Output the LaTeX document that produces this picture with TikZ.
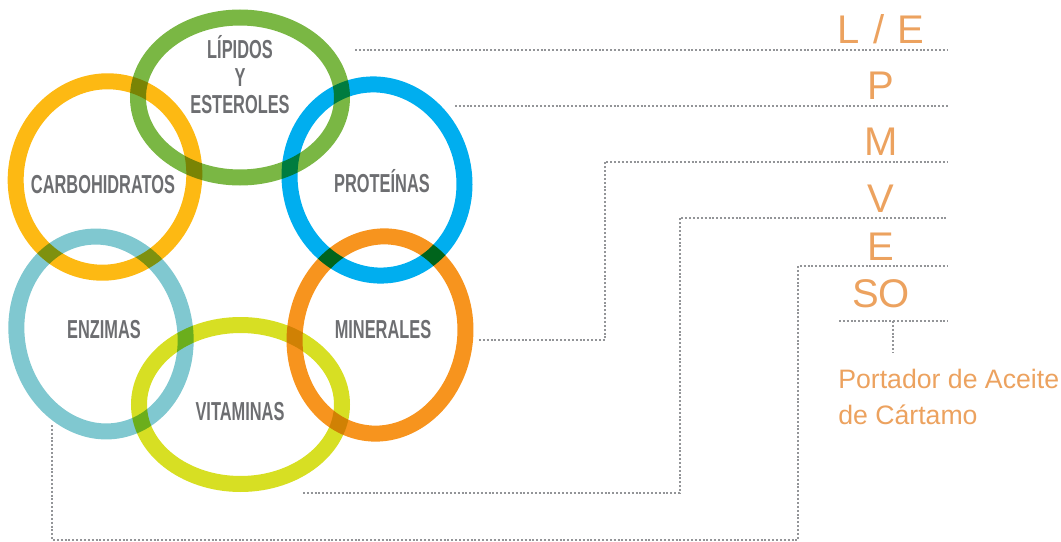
\documentclass[tikz,border=0pt]{standalone}
\usepackage{fontspec}
\setmainfont{Liberation Sans}
\newfontfamily\ringfont[FakeStretch=0.63]{Liberation Sans}

\definecolor{lipgreen}{HTML}{7AB744}
\definecolor{carbyellow}{HTML}{FDB913}
\definecolor{protblue}{HTML}{00AEEF}
\definecolor{enzteal}{HTML}{80C8D0}
\definecolor{minorange}{HTML}{F7941E}
\definecolor{vitlime}{HTML}{D7DF23}
\definecolor{labelgrey}{HTML}{6D6E71}
\definecolor{letterorange}{HTML}{ECA25F}
\definecolor{guidegrey}{HTML}{939598}

\begin{document}
\begin{tikzpicture}[x=0.75pt, y=-0.75pt,
		ring/.style={line width=12pt, blend mode=multiply},
		ringlabel/.style={text=labelgrey, font=\ringfont\bfseries\fontsize{19.5}{20.6}\selectfont, align=center},
		letter/.style={text=letterorange, font=\fontsize{30}{36}\selectfont, anchor=base},
		guide/.style={draw=guidegrey, line width=1.5pt, dash pattern=on 1.5pt off 1.4pt}]
			\useasboundingbox (0,0) rectangle (1061,542);

			% Rings
			\draw[ring, lipgreen] (240,97.5) ellipse [x radius=102, y radius=80];
			\draw[ring, carbyellow, rotate around={-12:(105,177)}] (105,177) ellipse [x radius=89, y radius=96];
			\draw[ring, protblue, rotate around={13:(377,180)}] (377,180) ellipse [x radius=87, y radius=96];
			\draw[ring, enzteal, rotate around={12:(101,334)}] (101,334) ellipse [x radius=84, y radius=98];
			\draw[ring, minorange, rotate around={-10:(380,335)}] (380,335) ellipse [x radius=85, y radius=99];
			\draw[ring, vitlime] (240.5,404.5) ellipse [x radius=101.5, y radius=79.5];

			% Ring labels
			\node[ringlabel] (lipidos) at (240,75) {LÍPIDOS\\Y\\ESTEROLES};
			\node[ringlabel, anchor=base] (carbo) at (103,193) {CARBOHIDRATOS};
			\node[ringlabel, anchor=base] (prot) at (382,192) {PROTEÍNAS};
			\node[ringlabel, anchor=base] (enz) at (104,338) {ENZIMAS};
			\node[ringlabel, anchor=base] (mine) at (383,338) {MINERALES};
			\node[ringlabel, anchor=base] (vita) at (240,420) {VITAMINAS};

			% Letters
			\node[letter] (le) at (881,44) {L\,\,/\,\,E};
			\node[letter] (p) at (881,99) {P};
			\node[letter] (m) at (881,156) {M};
			\node[letter] (v) at (881,212) {V};
			\node[letter] (e) at (881,260) {E};
			\node[letter] (so) at (881,307) {SO};
			\node[text=letterorange, font=\fontsize{20}{27}\selectfont, anchor=base west, inner sep=0pt] (oil) at (838,388) {Portador de Aceite};
			\node[text=letterorange, font=\fontsize{20}{27}\selectfont, anchor=base west, inner sep=0pt] (oil2) at (838,424) {de Cártamo};

			% Guides
			\coordinate (rail) at (948,0);
			\coordinate (lip-from) at (355,50);
			\coordinate (prot-from) at (455,106);
			\coordinate (min-from) at (479,340);
			\coordinate (m-rule) at (605,162);
			\coordinate (vit-from) at (303,493);
			\coordinate (v-rule) at (680,218);
			\coordinate (enz-from) at (52,425);
			\coordinate (e-corner) at (798,540);
			\coordinate (e-rule) at (798,266);
			\coordinate (so-rule) at (839,321);
			\coordinate (so-spur) at (893,321);
			\draw[guide] (lip-from) -- (lip-from -| rail);
			\draw[guide] (prot-from) -- (prot-from -| rail);
			\draw[guide] (min-from) -| (m-rule) -- (m-rule -| rail);
			\draw[guide] (vit-from) -| (v-rule) -- (v-rule -| rail);
			\draw[guide] (enz-from) |- (e-corner) -- (e-rule) -- (e-rule -| rail);
			\draw[guide] (so-rule) -- (so-rule -| rail);
			\draw[guide] (so-spur) -- ++(0,32);
		\end{tikzpicture}
\end{document}
